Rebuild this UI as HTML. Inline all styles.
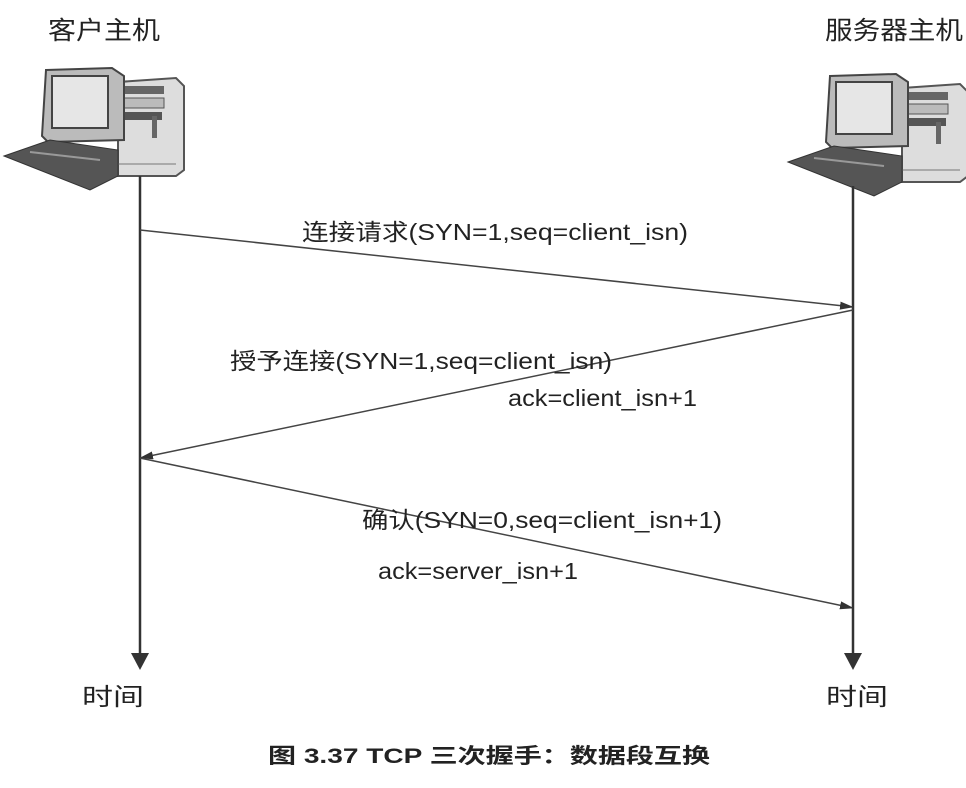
<!DOCTYPE html>
<html><head><meta charset="utf-8"><style>
html,body{margin:0;padding:0;background:#fff;width:966px;height:788px;overflow:hidden}
text{font-family:"Liberation Sans","Noto Sans CJK SC",sans-serif;fill:#222}
</style></head><body>
<svg width="966" height="788" viewBox="0 0 966 788" xmlns="http://www.w3.org/2000/svg">
<defs>
<marker id="a" markerWidth="14" markerHeight="10" refX="13" refY="5" orient="auto" markerUnits="userSpaceOnUse">
<path d="M0,1 L14,5 L0,9 z" fill="#333"/></marker>
<g id="pc">
  <path d="M118,82 L176,78 L184,86 L184,170 L176,176 L118,176 z" fill="#ddd" stroke="#555" stroke-width="2"/>
  <rect x="122" y="86" width="42" height="8" fill="#666"/>
  <rect x="122" y="98" width="42" height="10" fill="#bbb" stroke="#555"/>
  <rect x="122" y="112" width="40" height="8" fill="#555"/>
  <rect x="152" y="116" width="5" height="22" fill="#666"/>
  <line x1="118" y1="164" x2="176" y2="164" stroke="#777"/>
  <path d="M46,70 L112,68 L124,76 L124,140 L48,142 L42,136 z" fill="#bbb" stroke="#444" stroke-width="2"/>
  <rect x="52" y="76" width="56" height="52" fill="#e6e6e6" stroke="#444" stroke-width="2"/>
  <path d="M4,156 L50,140 L118,150 L118,176 L90,190 z" fill="#555" stroke="#333"/>
  <path d="M30,152 L100,160" stroke="#999" stroke-width="2"/>
</g>
</defs>
<text x="48" y="39" font-size="25" textLength="112" lengthAdjust="spacingAndGlyphs">客户主机</text>
<text x="825" y="39" font-size="25" textLength="138" lengthAdjust="spacingAndGlyphs">服务器主机</text>
<use href="#pc"/>
<use href="#pc" transform="translate(784,6)"/>
<line x1="140" y1="176" x2="140" y2="655" stroke="#333" stroke-width="2.5"/>
<path d="M131,653 L149,653 L140,670 z" fill="#333"/>
<line x1="853" y1="186" x2="853" y2="655" stroke="#333" stroke-width="2.5"/>
<path d="M844,653 L862,653 L853,670 z" fill="#333"/>
<line x1="140" y1="230" x2="853" y2="307" stroke="#444" stroke-width="1.5" marker-end="url(#a)"/>
<line x1="853" y1="310" x2="140" y2="458" stroke="#444" stroke-width="1.5" marker-end="url(#a)"/>
<line x1="140" y1="458" x2="853" y2="608" stroke="#444" stroke-width="1.5" marker-end="url(#a)"/>
<text x="302" y="240" font-size="23" textLength="386" lengthAdjust="spacingAndGlyphs">连接请求(SYN=1,seq=client_isn)</text>
<text x="230" y="369" font-size="23" textLength="382" lengthAdjust="spacingAndGlyphs">授予连接(SYN=1,seq=client_isn)</text>
<text x="508" y="406" font-size="23" textLength="189" lengthAdjust="spacingAndGlyphs">ack=client_isn+1</text>
<text x="362" y="528" font-size="23" textLength="360" lengthAdjust="spacingAndGlyphs">确认(SYN=0,seq=client_isn+1)</text>
<text x="378" y="579" font-size="23" textLength="200" lengthAdjust="spacingAndGlyphs">ack=server_isn+1</text>
<text x="82" y="705" font-size="24" textLength="62" lengthAdjust="spacingAndGlyphs">时间</text>
<text x="826" y="705" font-size="24" textLength="62" lengthAdjust="spacingAndGlyphs">时间</text>
<text x="268" y="763" font-size="21" font-weight="bold" font-family="Liberation Serif, Noto Serif CJK SC, serif" textLength="442" lengthAdjust="spacingAndGlyphs">图 3.37   TCP 三次握手：数据段互换</text>
</svg>
</body></html>
